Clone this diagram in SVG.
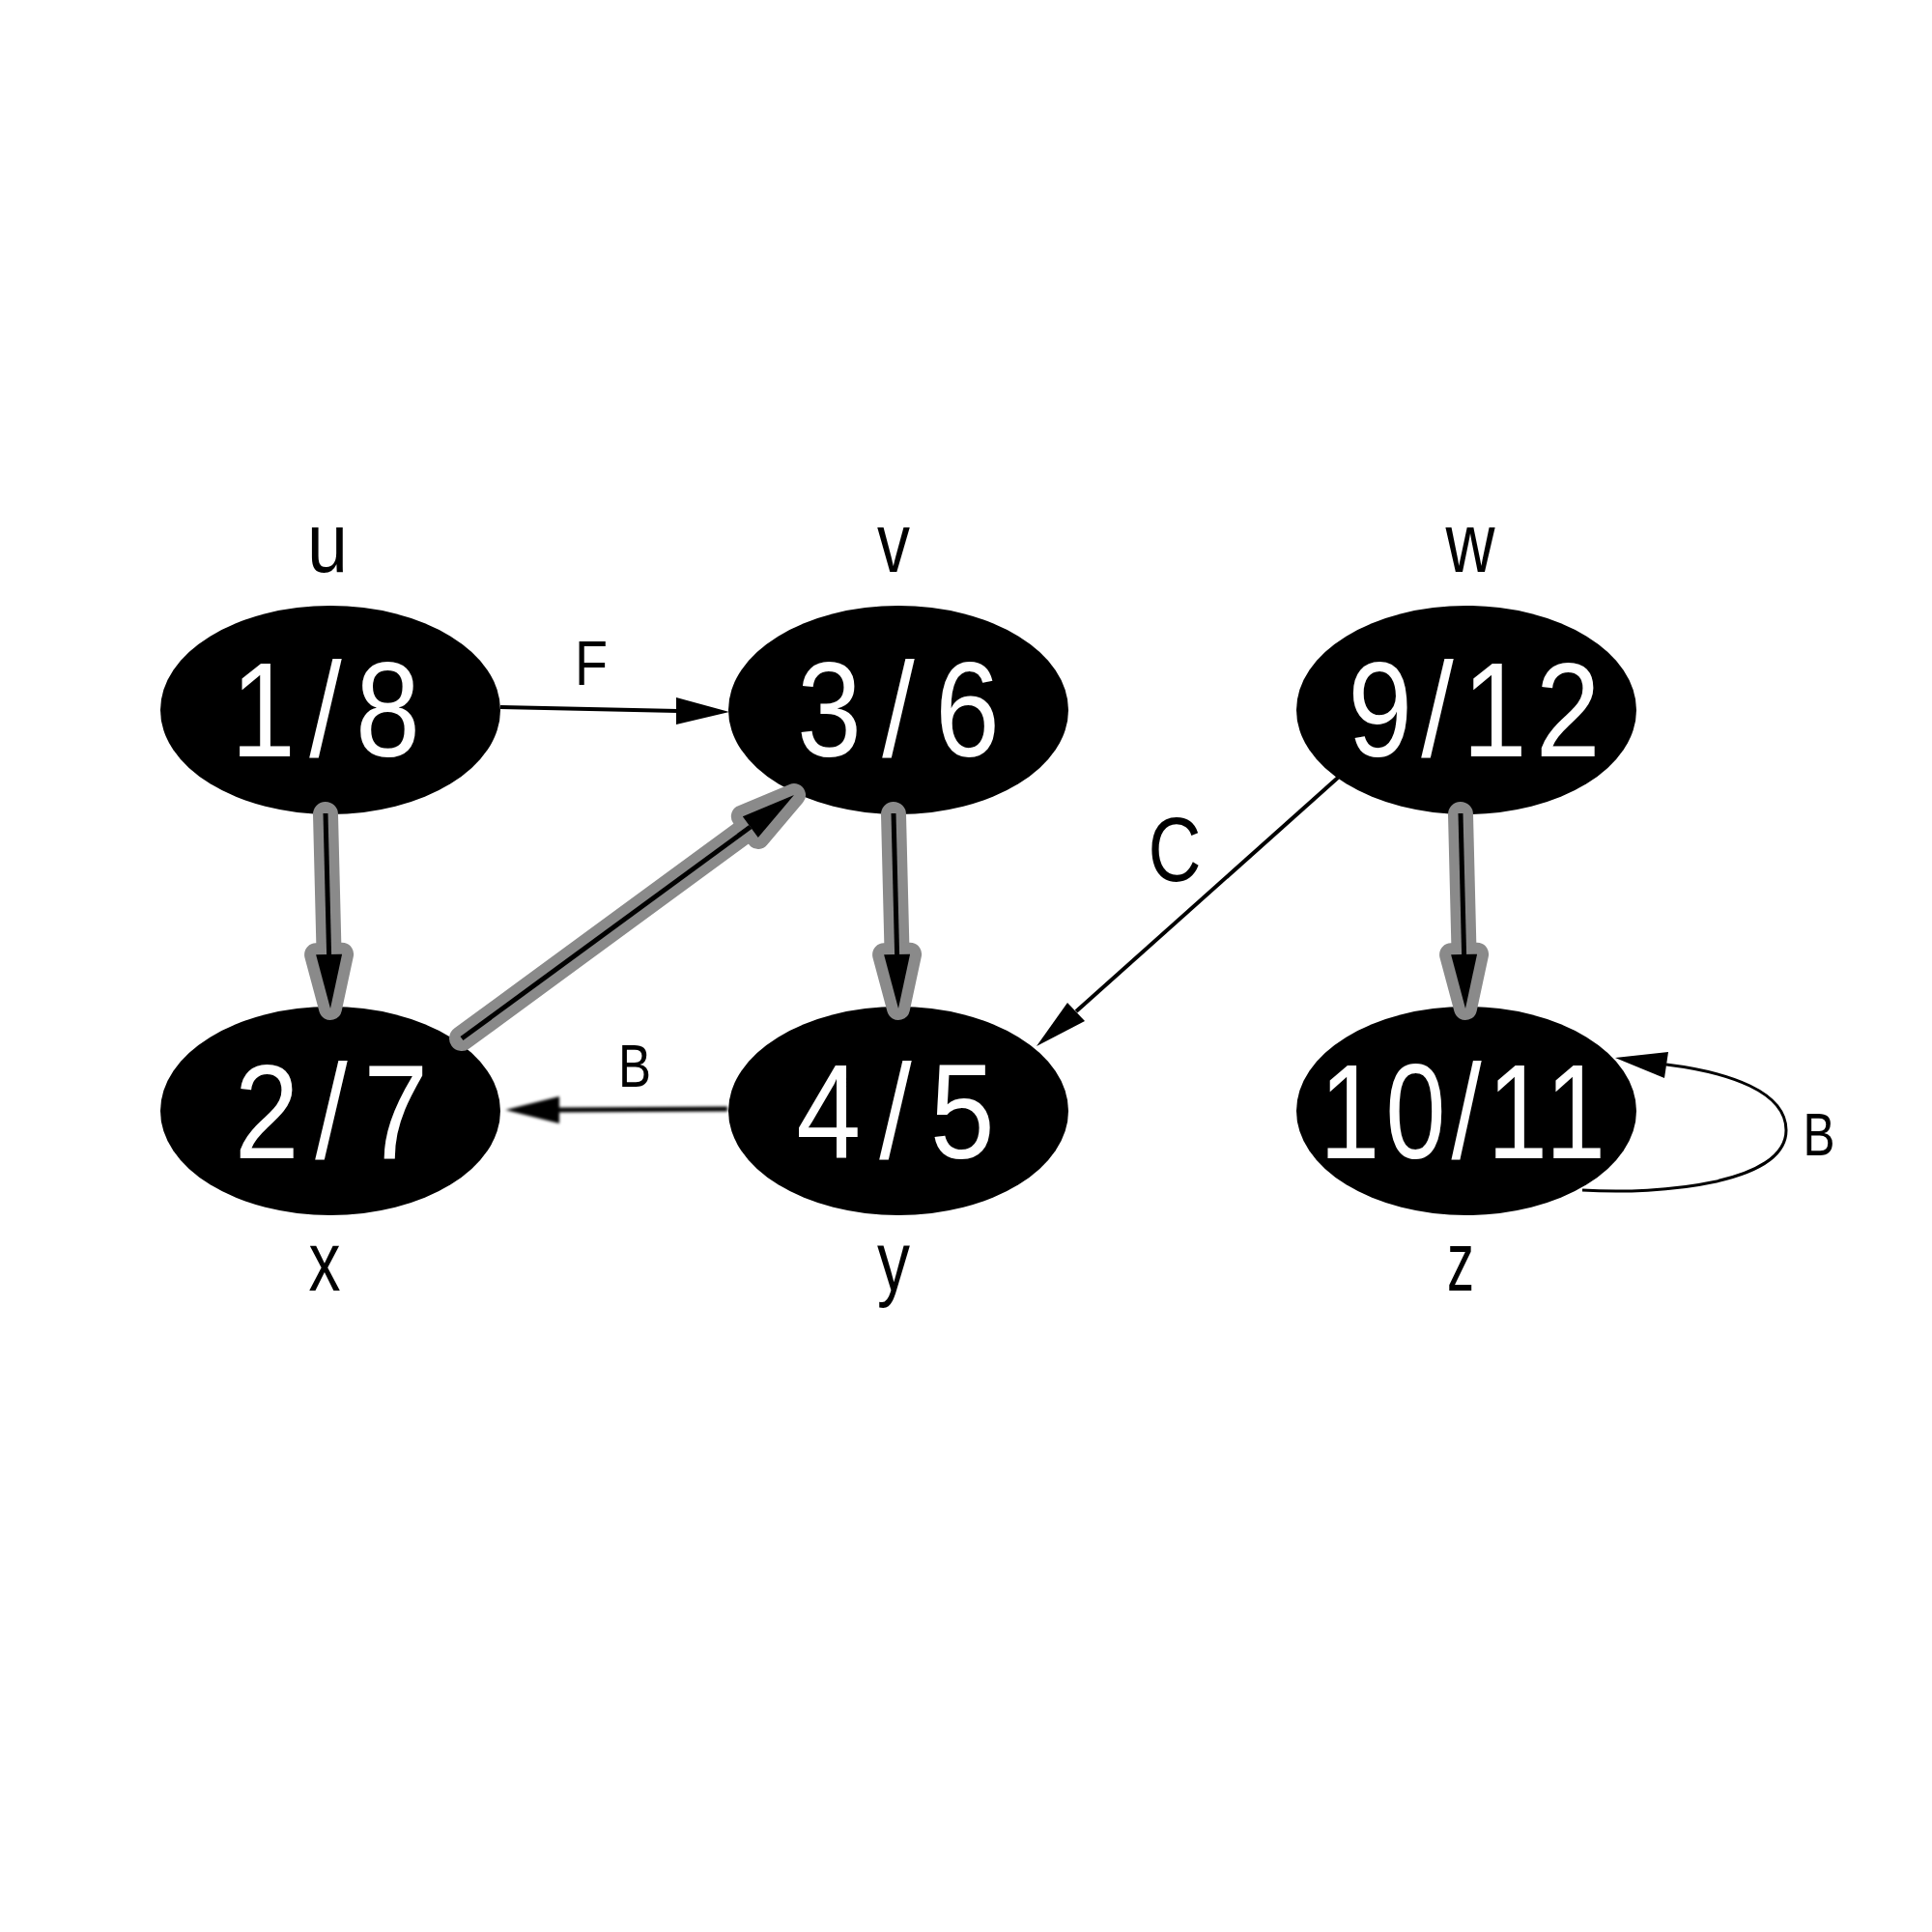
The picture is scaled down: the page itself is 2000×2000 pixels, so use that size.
<svg xmlns="http://www.w3.org/2000/svg" width="2000" height="2000" viewBox="0 0 2000 2000">
<style>
.node ellipse{fill:#000}
.num{font-family:"Liberation Sans",Arial,sans-serif;font-size:140px;fill:#fff;text-anchor:middle}
.lbl{font-family:"Liberation Sans",Arial,sans-serif;font-size:87px;fill:#000;text-anchor:middle}
.elbl{font-family:"Liberation Sans",Arial,sans-serif;font-size:63px;fill:#000;text-anchor:middle}
.halo{stroke:#8a8a8a;stroke-width:26;stroke-linecap:round;fill:none}
.halohead{fill:#8a8a8a;stroke:#8a8a8a;stroke-width:24;stroke-linejoin:round}
.core{stroke:#000;stroke-width:5;fill:none}
.head{fill:#000}
.thin{stroke:#000;stroke-width:4;fill:none}
.loop{stroke:#000;stroke-width:3;fill:none}
</style>
<defs>
<filter id="soft" x="-10%" y="-50%" width="120%" height="200%">
<feGaussianBlur stdDeviation="1.6"/>
</filter>
</defs>
<rect width="2000" height="2000" fill="#fff"/>

<g id="node-u" class="node">
<ellipse cx="342" cy="735" rx="176" ry="108"/>
<text class="num" transform="translate(337,783) scale(0.86,1)" x="0" y="0" textLength="228" lengthAdjust="spacing">1/8</text>
<text class="lbl" x="339" y="592" textLength="42" lengthAdjust="spacingAndGlyphs">u</text>
</g>
<g id="node-v" class="node">
<ellipse cx="930" cy="735" rx="176" ry="108"/>
<text class="num" transform="translate(930,783) scale(0.86,1)" x="0" y="0" textLength="244" lengthAdjust="spacing">3/6</text>
<text class="lbl" x="925" y="592" textLength="34" lengthAdjust="spacingAndGlyphs">v</text>
</g>
<g id="node-w" class="node">
<ellipse cx="1518" cy="735" rx="176" ry="108"/>
<text class="num" transform="translate(1526,783) scale(0.86,1)" x="0" y="0" textLength="304" lengthAdjust="spacing">9/12</text>
<text class="lbl" x="1522" y="592" textLength="51" lengthAdjust="spacingAndGlyphs">w</text>
</g>
<g id="node-x" class="node">
<ellipse cx="342" cy="1150" rx="176" ry="108"/>
<text class="num" transform="translate(343,1199) scale(0.86,1)" x="0" y="0" textLength="233" lengthAdjust="spacing">2/7</text>
<text class="lbl" x="336" y="1336" textLength="33" lengthAdjust="spacingAndGlyphs">x</text>
</g>
<g id="node-y" class="node">
<ellipse cx="930" cy="1150" rx="176" ry="108"/>
<text class="num" transform="translate(927,1199) scale(0.86,1)" x="0" y="0" textLength="239" lengthAdjust="spacing">4/5</text>
<text class="lbl" x="925" y="1336" textLength="34" lengthAdjust="spacingAndGlyphs">y</text>
</g>
<g id="node-z" class="node">
<ellipse cx="1518" cy="1150" rx="176" ry="108"/>
<text class="num" transform="translate(1514,1199) scale(0.8,1)" x="0" y="0" textLength="370" lengthAdjust="spacing">10/11</text>
<text class="lbl" x="1512" y="1336" textLength="28" lengthAdjust="spacingAndGlyphs">z</text>
</g>

<g id="connectors">
<g id="edge-u-x">
<path class="halo" d="M337,843 L340.6,988"/>
<polygon class="halohead" points="342,1044 354.1,987.7 327.1,988.3"/>
<path class="core" d="M337,842 L340.6,988"/>
<polygon class="head" points="342,1044 354.1,987.7 327.1,988.3"/>
</g>
<g id="edge-v-y">
<path class="halo" d="M925,843 L928.6,988"/>
<polygon class="halohead" points="930,1044 942.1,987.7 915.1,988.3"/>
<path class="core" d="M925,842 L928.6,988"/>
<polygon class="head" points="930,1044 942.1,987.7 915.1,988.3"/>
</g>
<g id="edge-w-z">
<path class="halo" d="M1512,843 L1515.6,988"/>
<polygon class="halohead" points="1517,1044 1529.1,987.7 1502.1,988.3"/>
<path class="core" d="M1512,842 L1515.6,988"/>
<polygon class="head" points="1517,1044 1529.1,987.7 1502.1,988.3"/>
</g>
<g id="edge-x-v">
<path class="halo" d="M478,1075 L776.8,856.1"/>
<polygon class="halohead" points="822,823 784.8,867 768.8,845.2"/>
<path class="core" d="M478,1075 L776.8,856.1"/>
<polygon class="head" points="822,823 784.8,867 768.8,845.2"/>
</g>
<g id="edge-u-v">
<path class="thin" d="M518,732 L702,736"/>
<polygon class="head" points="755,737 700,722 700,750"/>
<text class="elbl" x="612" y="709" style="font-size:64px" textLength="34" lengthAdjust="spacingAndGlyphs">F</text>
</g>
<g id="edge-w-y">
<path class="thin" d="M1385,805 L1114,1047"/>
<polygon class="head" points="1073,1083 1105,1038 1123,1057"/>
<text class="elbl" x="1216" y="912" style="font-size:94px" textLength="55" lengthAdjust="spacingAndGlyphs">C</text>
</g>
<g id="edge-y-x">
<g filter="url(#soft)">
<path class="core" d="M753,1148 L579,1149"/>
<polygon class="head" points="523,1149 579,1135 579,1163"/>
</g>
<text class="elbl" x="657" y="1125" textLength="34" lengthAdjust="spacingAndGlyphs">B</text>
</g>
<g id="edge-z-z">
<path class="loop" d="M1638,1232 C1720,1237 1849,1225 1849,1170 C1849,1130 1790,1110 1725,1102"/>
<polygon class="head" points="1672,1095 1727,1089 1723,1116"/>
<text class="elbl" x="1883" y="1196" textLength="33" lengthAdjust="spacingAndGlyphs">B</text>
</g>
</g>
</svg>
